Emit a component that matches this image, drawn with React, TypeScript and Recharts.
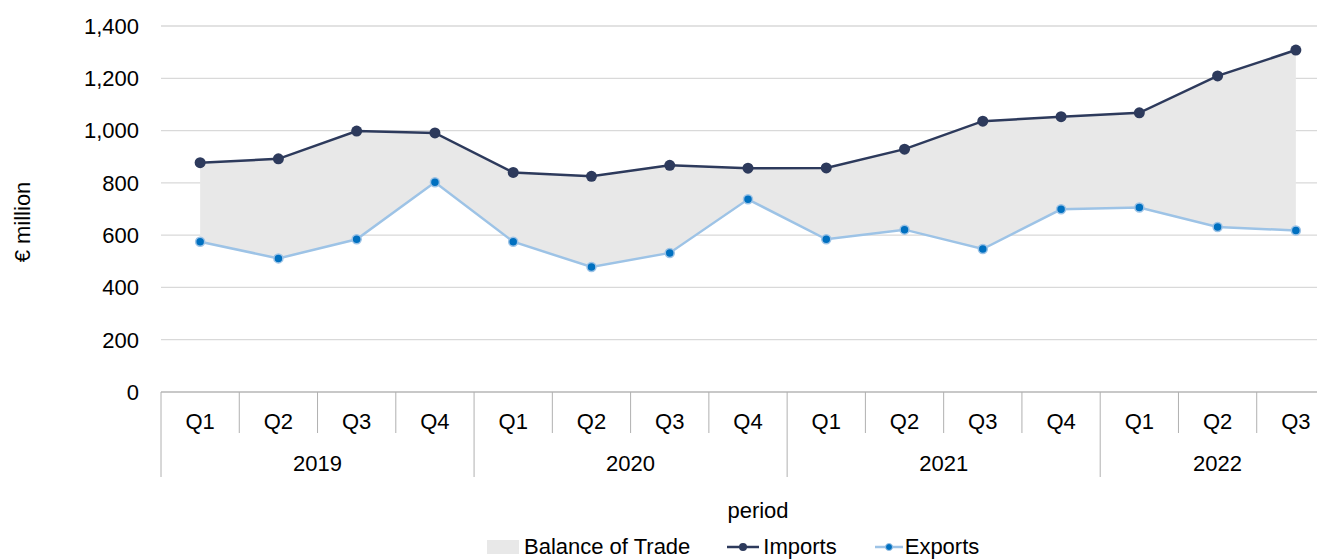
import React from 'react';
import { ComposedChart, Area, Line, XAxis, YAxis, CartesianGrid } from 'recharts';

const quarters = ['Q1', 'Q2', 'Q3', 'Q4', 'Q1', 'Q2', 'Q3', 'Q4', 'Q1', 'Q2', 'Q3', 'Q4', 'Q1', 'Q2', 'Q3'];
const years = ['2019', '2019', '2019', '2019', '2020', '2020', '2020', '2020', '2021', '2021', '2021', '2021', '2022', '2022', '2022'];
const importValues = [877, 892, 998, 991, 840, 825, 867, 856, 857, 929, 1036, 1053, 1068, 1209, 1308];
const exportValues = [575, 511, 584, 802, 575, 478, 532, 737, 584, 621, 547, 699, 706, 631, 618];
const yTicks = [0, 200, 400, 600, 800, 1000, 1200, 1400];

const data = quarters.map((q, i) => ({
  key: `${years[i]} ${q}`,
  quarter: q,
  year: years[i],
  imports: importValues[i],
  exports: exportValues[i],
}));

const FONT = '"Liberation Sans", Arial, sans-serif';
const CHART_W = 1340;
const CHART_H = 551;
const MARGIN = { top: 18, right: 13, bottom: 39, left: 0 };
const Y_W = 153;
const PLOT_W = CHART_W - MARGIN.right - MARGIN.left - Y_W;
const IMPORT_COLOR = '#2d3a5c';
const EXPORT_LINE = '#9dc3e6';
const EXPORT_DOT = '#0070c0';
const AREA_FILL = '#e8e8e8';
const SEP = '#b0b0b0';

const QuarterTick = (props: any) => {
  const { x, y, index } = props;
  const bw = PLOT_W / data.length;
  const left = x - bw / 2;
  const isYearStart = index === 0 || years[index] !== years[index - 1];
  const isLast = index === data.length - 1;
  const count = years.filter((yy) => yy === years[index]).length;
  return (
    <g>
      <line x1={left} x2={left} y1={y} y2={y + (isYearStart ? 85 : 41)} stroke={SEP} strokeWidth={1} />
      {isLast && <line x1={x + bw / 2} x2={x + bw / 2} y1={y} y2={y + 85} stroke={SEP} strokeWidth={1} />}
      <text x={x} y={y + 29} textAnchor="middle" dominantBaseline="central" fontSize={22} fontFamily={FONT} fill="#000">
        {quarters[index]}
      </text>
      {isYearStart && (
        <text x={left + (count * bw) / 2} y={y + 71} textAnchor="middle" dominantBaseline="central" fontSize={22} fontFamily={FONT} fill="#000">
          {years[index]}
        </text>
      )}
    </g>
  );
};

const PeriodLabel = (props: any) => {
  const vb = props.viewBox || {};
  return (
    <text x={vb.x + vb.width / 2 + 10} y={vb.y + 118} textAnchor="middle" dominantBaseline="central" fontSize={22} fontFamily={FONT} fill="#000">
      period
    </text>
  );
};

const MillionLabel = (props: any) => {
  const vb = props.viewBox || {};
  const cx = 14;
  const cy = vb.y + vb.height / 2 + 13;
  return (
    <text x={cx} y={cy} transform={`rotate(-90 ${cx} ${cy})`} textAnchor="middle" dominantBaseline="central" fontSize={22} fontFamily={FONT} fill="#000">
      € million
    </text>
  );
};

const LegendItem = ({ kind, label, gap }: { kind: string; label: string; gap: number }) => (
  <div style={{ display: 'flex', alignItems: 'center', marginRight: gap }}>
    <svg width={kind === 'exports' ? 30 : 34} height={20} style={{ marginRight: kind === 'exports' ? 1 : 3 }}>
      {kind === 'area' && <rect x={0} y={3} width={32} height={14} fill={AREA_FILL} />}
      {kind === 'imports' && (
        <g>
          <line x1={1} x2={33} y1={10} y2={10} stroke={IMPORT_COLOR} strokeWidth={2.5} />
          <circle cx={17} cy={10} r={4} fill={IMPORT_COLOR} />
        </g>
      )}
      {kind === 'exports' && (
        <g>
          <line x1={1} x2={29} y1={10} y2={10} stroke={EXPORT_LINE} strokeWidth={2.5} />
          <circle cx={15} cy={10} r={3.5} fill={EXPORT_DOT} stroke={EXPORT_LINE} strokeWidth={1} />
        </g>
      )}
    </svg>
    <span>{label}</span>
  </div>
);

export default function App() {
  return (
    <div style={{ position: 'relative', width: 1317, height: CHART_H, overflow: 'hidden', fontFamily: FONT }}>
      <ComposedChart width={CHART_W} height={CHART_H} data={data} margin={MARGIN}>
        <CartesianGrid horizontal vertical={false} stroke="#d9d9d9" strokeWidth={1.3} />
        <XAxis
          dataKey="key"
          scale="band"
          interval={0}
          tickLine={false}
          tickSize={0}
          tickMargin={0}
          height={128}
          axisLine={{ stroke: '#bfbfbf', strokeWidth: 1.3 }}
          tick={<QuarterTick />}
          label={<PeriodLabel />}
        />
        <YAxis
          width={Y_W}
          domain={[0, 1400]}
          ticks={yTicks}
          interval={0}
          axisLine={false}
          tickLine={false}
          tickSize={0}
          tickMargin={22}
          tickFormatter={(v: number) => v.toLocaleString('en-US')}
          tick={{ fontSize: 22, fontFamily: FONT, fill: '#000' }}
          label={<MillionLabel />}
        />
        <Area
          type="linear"
          dataKey={(d: any) => [d.exports, d.imports]}
          name="Balance of Trade"
          fill={AREA_FILL}
          fillOpacity={1}
          stroke="none"
          isAnimationActive={false}
          dot={false}
          activeDot={false}
        />
        <Line
          type="linear"
          dataKey="imports"
          name="Imports"
          stroke={IMPORT_COLOR}
          strokeWidth={2.5}
          dot={{ r: 5.5, fill: IMPORT_COLOR, stroke: 'none' }}
          isAnimationActive={false}
        />
        <Line
          type="linear"
          dataKey="exports"
          name="Exports"
          stroke={EXPORT_LINE}
          strokeWidth={2.5}
          dot={{ r: 4.5, fill: EXPORT_DOT, stroke: EXPORT_LINE, strokeWidth: 1.5 }}
          isAnimationActive={false}
        />
      </ComposedChart>
      <div
        style={{
          position: 'absolute',
          left: 479,
          top: 527,
          display: 'flex',
          alignItems: 'center',
          fontSize: 22,
          fontFamily: FONT,
          color: '#000',
          whiteSpace: 'nowrap',
          lineHeight: '24px',
        }}
      >
        <LegendItem kind="area" label="Balance of Trade" gap={36} />
        <LegendItem kind="imports" label="Imports" gap={37} />
        <LegendItem kind="exports" label="Exports" gap={0} />
      </div>
    </div>
  );
}
